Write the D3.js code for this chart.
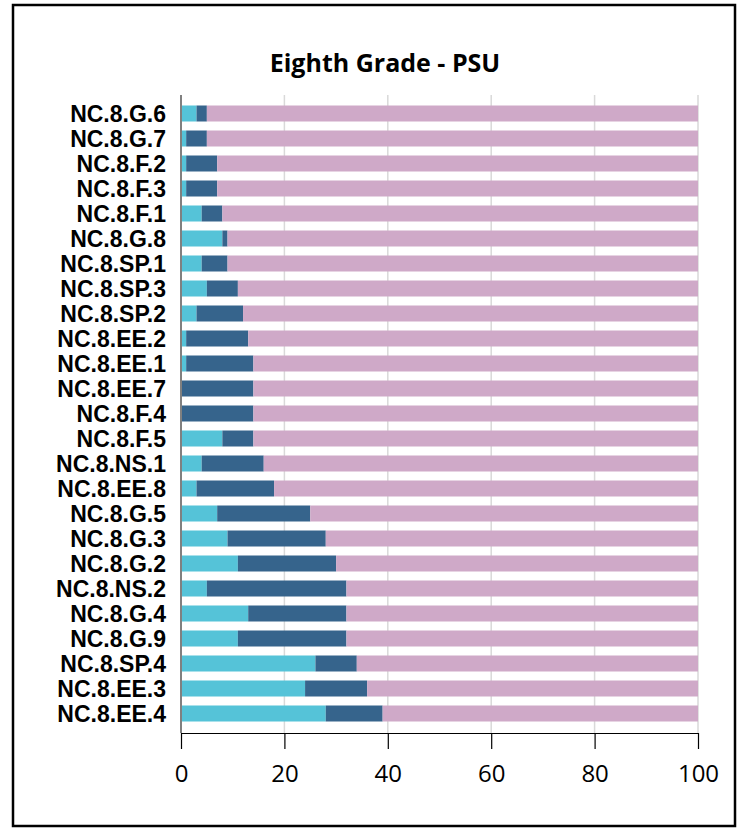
<!DOCTYPE html>
<html><head><meta charset="utf-8">
<script src="https://cdn.jsdelivr.net/npm/d3@7"></script>
<style>body{margin:0;background:#fff;}svg{display:block;}</style>
</head><body>
<script>
const categories = ["NC.8.G.6","NC.8.G.7","NC.8.F.2","NC.8.F.3","NC.8.F.1","NC.8.G.8","NC.8.SP.1","NC.8.SP.3","NC.8.SP.2","NC.8.EE.2","NC.8.EE.1","NC.8.EE.7","NC.8.F.4","NC.8.F.5","NC.8.NS.1","NC.8.EE.8","NC.8.G.5","NC.8.G.3","NC.8.G.2","NC.8.NS.2","NC.8.G.4","NC.8.G.9","NC.8.SP.4","NC.8.EE.3","NC.8.EE.4"];
const seriesA = [3,1,1,1,4,8,4,5,3,1,1,0,0,8,4,3,7,9,11,5,13,11,26,24,28];
const seriesB = [2,4,6,6,4,1,5,6,9,12,13,14,14,6,12,15,18,19,19,27,19,21,8,12,11];
const seriesC = categories.map((c,i)=>100-seriesA[i]-seriesB[i]);
const xTicks = [0,20,40,60,80,100];
const colors = ["#55C3D8","#36648C","#CFA9C8"];
const title = "Eighth Grade - PSU";

const W=745,H=828;
const svg=d3.select("body").append("svg").attr("width",W).attr("height",H);
svg.append("rect").attr("x",13).attr("y",5).attr("width",722).attr("height",821)
  .attr("fill","none").attr("stroke","#000").attr("stroke-width",2.5);

const x=d3.scaleLinear().domain([0,100]).range([181,698]);
const y=d3.scaleBand().domain(categories).range([101,726]).paddingInner(0.36).paddingOuter(0.18);
const plotTop=95, plotBot=733;

// gridlines
svg.append("g").selectAll("line").data(xTicks.slice(1)).join("line")
  .attr("x1",d=>x(d)).attr("x2",d=>x(d)).attr("y1",plotTop).attr("y2",plotBot)
  .attr("stroke","#D9D9D9").attr("stroke-width",1.5);

const stack=d3.stack().keys(["a","b","c"])(categories.map((c,i)=>({cat:c,a:seriesA[i],b:seriesB[i],c:seriesC[i]})));
svg.append("g").selectAll("g").data(stack).join("g").attr("fill",(d,i)=>colors[i])
  .selectAll("rect").data(d=>d).join("rect")
  .attr("x",d=>x(d[0])).attr("width",d=>x(d[1])-x(d[0]))
  .attr("y",d=>y(d.data.cat)).attr("height",y.bandwidth());

// x axis
const xa=svg.append("g").attr("transform",`translate(0,${plotBot})`)
  .call(d3.axisBottom(x).tickValues(xTicks).tickSize(16).tickPadding(16).tickSizeOuter(0));
xa.select(".domain").attr("stroke","#000").attr("stroke-width",1.2);
xa.selectAll(".tick line").attr("stroke","#000").attr("stroke-width",1.2);
xa.selectAll("text").attr("font-family","'Open Sans', sans-serif").attr("font-size",24).attr("fill","#000");

// y axis line
svg.append("line").attr("x1",x(0)).attr("x2",x(0)).attr("y1",plotTop).attr("y2",plotBot)
  .attr("stroke","#808080").attr("stroke-width",2);

// y labels
svg.append("g").selectAll("text").data(categories).join("text")
  .attr("x",166).attr("y",d=>y(d)+y.bandwidth()/2).attr("dy","0.36em")
  .attr("text-anchor","end").attr("font-family","'Liberation Sans', Arial, sans-serif")
  .attr("font-weight","bold").attr("font-size",23).attr("fill","#000").text(d=>d);

svg.append("text").attr("x",385).attr("y",72).attr("text-anchor","middle")
  .attr("font-family","'Open Sans', sans-serif").attr("font-weight","bold").attr("font-size",25)
  .attr("fill","#000").text(title);
</script>
</body></html>
